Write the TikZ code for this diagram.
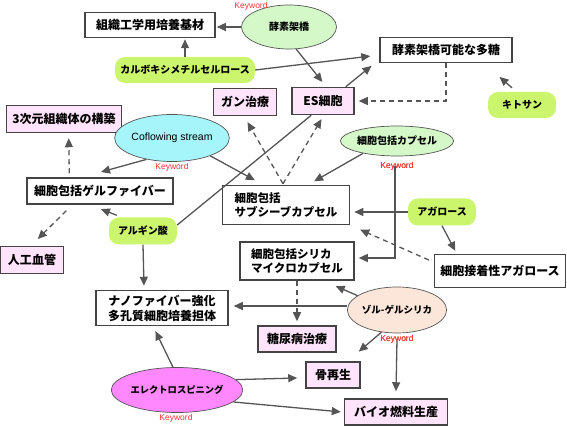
\documentclass[tikz,border=0pt]{standalone}
\usepackage{fontspec}
\setmainfont{Liberation Sans}
\newfontfamily\jp{Noto Sans CJK JP}
\usetikzlibrary{shapes.geometric,arrows.meta,calc}
\definecolor{pinkfill}{HTML}{FFE4FC}
\definecolor{limefill}{HTML}{CCF56E}
\definecolor{lgreen}{HTML}{D4F8C8}
\definecolor{cyanfill}{HTML}{A6F5FA}
\definecolor{peach}{HTML}{FCE6DA}
\definecolor{magfill}{HTML}{FF88FF}
\definecolor{border}{HTML}{444444}
\definecolor{arrgray}{HTML}{555555}
\definecolor{kwred}{HTML}{FF3333}
\tikzset{
  box/.style={draw=border, line width=1.5pt, fill=white, inner sep=2pt,
    font=\jp\bfseries\fontsize{12}{15}\selectfont},
  pbox/.style={box, fill=pinkfill},
  lime/.style={fill=limefill, rounded corners=10pt, inner sep=2pt,
    font=\jp\bfseries\fontsize{10}{12}\selectfont},
  ell/.style={ellipse, draw=arrgray, line width=0.7pt, inner sep=0pt,
    font=\jp\bfseries\fontsize{10}{12}\selectfont},
  kw/.style={text=kwred, font=\fontsize{8.5}{10}\selectfont, inner sep=0pt},
  arr/.style={draw=arrgray, line width=1.3pt,
    -{Triangle[length=9pt,width=8pt]}, shorten >=1pt},
  darr/.style={arr, dash pattern=on 5pt off 4pt},
  plain/.style={draw=arrgray, line width=1.3pt}
}
\begin{document}
\begin{tikzpicture}[x=1pt,y=-1pt]
\useasboundingbox (0,0) rectangle (567,427);
% boxes
\node[box, minimum width=130pt, minimum height=25pt] (zk) at (150,25) {組織工学用培養基材};
\node[box, minimum width=132pt, minimum height=25pt] (ts) at (446,50) {酵素架橋可能な多糖};
\node[pbox, minimum width=63pt, minimum height=27pt] (gan) at (245,102) {ガン治療};
\node[pbox, minimum width=62pt, minimum height=27pt] (es) at (323,101) {ES細胞};
\node[pbox, minimum width=115pt, minimum height=27pt] (td) at (64,119) {3次元組織体の構築};
\node[box, minimum width=146pt, minimum height=26pt] (gel) at (100,191) {細胞包括ゲルファイバー};
\node[box, minimum width=127pt, minimum height=39pt, align=left, font=\jp\bfseries\fontsize{11.5}{13.5}\selectfont] (sub) at (286,205) {細胞包括\\サブシーブカプセル};
\node[box, minimum width=114pt, minimum height=38pt, align=left, font=\jp\bfseries\fontsize{11.5}{13.5}\selectfont] (mic) at (297,261) {細胞包括シリカ\\マイクロカプセル};
\node[box, minimum width=131pt, minimum height=33pt] (adh) at (500,271) {細胞接着性アガロース};
\node[pbox, minimum width=63pt, minimum height=27pt] (av) at (32,260) {人工血管};
\node[box, minimum width=132pt, minimum height=35pt, align=center] (nano) at (162,308) {ナノファイバー強化\\多孔質細胞培養担体};
\node[pbox, minimum width=78pt, minimum height=26pt] (dia) at (297,339) {糖尿病治療};
\node[pbox, minimum width=54pt, minimum height=26pt] (bone) at (333,375) {骨再生};
\node[pbox, minimum width=103pt, minimum height=26pt] (bio) at (396,412) {バイオ燃料生産};
% green rounded
\node[lime, minimum width=140pt, minimum height=26pt] (cmc) at (185,70) {カルボキシメチルセルロース};
\node[lime, minimum width=68pt, minimum height=26pt] (kit) at (522,105) {キトサン};
\node[lime, minimum width=68pt, minimum height=27pt] (aga) at (442,212) {アガロース};
\node[lime, minimum width=68pt, minimum height=27pt] (alg) at (143,231) {アルギン酸};
% ellipses
\node[ell, fill=lgreen, minimum width=95pt, minimum height=44pt] (kk) at (289,27) {酵素架橋};
\node[ell, fill=cyanfill, minimum width=98pt, minimum height=47pt, font=\fontsize{10.5}{12}\selectfont] (cof) at (172,138) {Coflowing stream};
\node[ell, fill=lgreen, minimum width=99pt, minimum height=30pt] (cap) at (397,141) {細胞包括カプセル};
\node[ell, fill=peach, minimum width=98pt, minimum height=46pt, font=\jp\bfseries\fontsize{9.5}{11}\selectfont] (sol) at (397,310) {ゾル-ゲルシリカ};
\node[ell, fill=magfill, minimum width=97pt, minimum height=45pt, font=\jp\bfseries\fontsize{9.3}{11}\selectfont] (el) at (177,390) {エレクトロスピニング};
% keyword labels
\node[kw] (kkkw) at (251,6) {Keyword};
\node[kw] (cofkw) at (172,167) {Keyword};
\node[kw] (capkw) at (397,166) {Keyword};
\node[kw] (solkw) at (397,339) {Keyword};
\node[kw] (elkw) at (176,418) {Keyword};
% connectors
\draw[arr] (kk.west) -- (kk.west -| zk.east);
\draw[arr] (cmc.north) -- (cmc.north |- zk.south);
\draw[arr] (cmc.east) -- ($(ts.west)+(-8,6)$);
\draw[arr] (kk.-72) -- ($(es.north)+(0,-4)$);
\draw[arr] ($(es.north east)+(-9,0)$) -- ($(ts.south west)+(-7,2)$);
\draw[darr] (ts.south) |- ($(es.east)+(3,0)$);
\draw[arr] ($(kit.north)+(-10,-4)$) -- ($(ts.south east)+(-14,13)$);
\draw[plain] ($(alg.east)+(0,-6)$) -- ($(es.south west)+(20,0)$);
\draw[darr] ($(sub.north)+(-3,-1)$) -- ($(gan.south)+(2,5)$);
\draw[darr] ($(sub.north)+(-3,-1)$) -- ($(es.south)+(-1,3)$);
\draw[arr] (cof.-25) -- ($(sub.north west)+(34,-4)$);
\draw[arr] (cof.-140) -- ($(gel.north)+(0,-5)$);
\draw[arr] (cap.-160) -- ($(sub.north east)+(-37,-3)$);
\coordinate (capv) at ($(capkw.center)+(-2,0)$);
\coordinate (micr) at ($(mic.east)+(3,-3)$);
\draw[arr] (capv) |- (micr);
\draw[arr] (aga.west) -- ($(aga.west -| sub.east)+(3,0)$);
\draw[arr] (aga.south) -- ($(adh.north west)+(22,-2)$);
\draw[darr] ($(adh.west)+(-5,-11)$) -- ($(sub.south east)+(9,4)$);
\draw[darr] ($(gel.north west)+(43,-4)$) -- ($(td.south west)+(63,4)$);
\draw[darr] ($(gel.south west)+(40,6)$) -- ($(av.north)+(5,-6)$);
\draw[arr] ($(alg.north west)+(8,-2)$) -- ($(gel.south)+(0,4)$);
\draw[arr] (alg.south) -- ($(nano.north)+(-18,-3)$);
\draw[arr] (sol.160) -- ($(mic.south east)+(-20,5)$);
\coordinate (solw) at ($(sol.west)+(0,-4)$);
\draw[arr] (solw) -- ($(solw -| nano.east)+(4,0)$);
\draw[darr] (mic.south) -- ($(dia.north)+(0,-3)$);
\draw[arr] (sol.-125) -- ($(bone.north)+(25,-9)$);
\draw[arr] (solkw.center) -- ($(bio.north)+(0,-6)$);
\draw[arr] (el.100) -- ($(nano.south)+(-7,4)$);
\draw[arr] (el.10) -- ($(bone.west)+(-7,3)$);
\draw[arr] (el.-12) -- ($(bio.west)+(-2,0)$);
% redraw keyword labels on top
\node[kw] at (397,166) {Keyword};
\node[kw] at (397,339) {Keyword};
\end{tikzpicture}
\end{document}
